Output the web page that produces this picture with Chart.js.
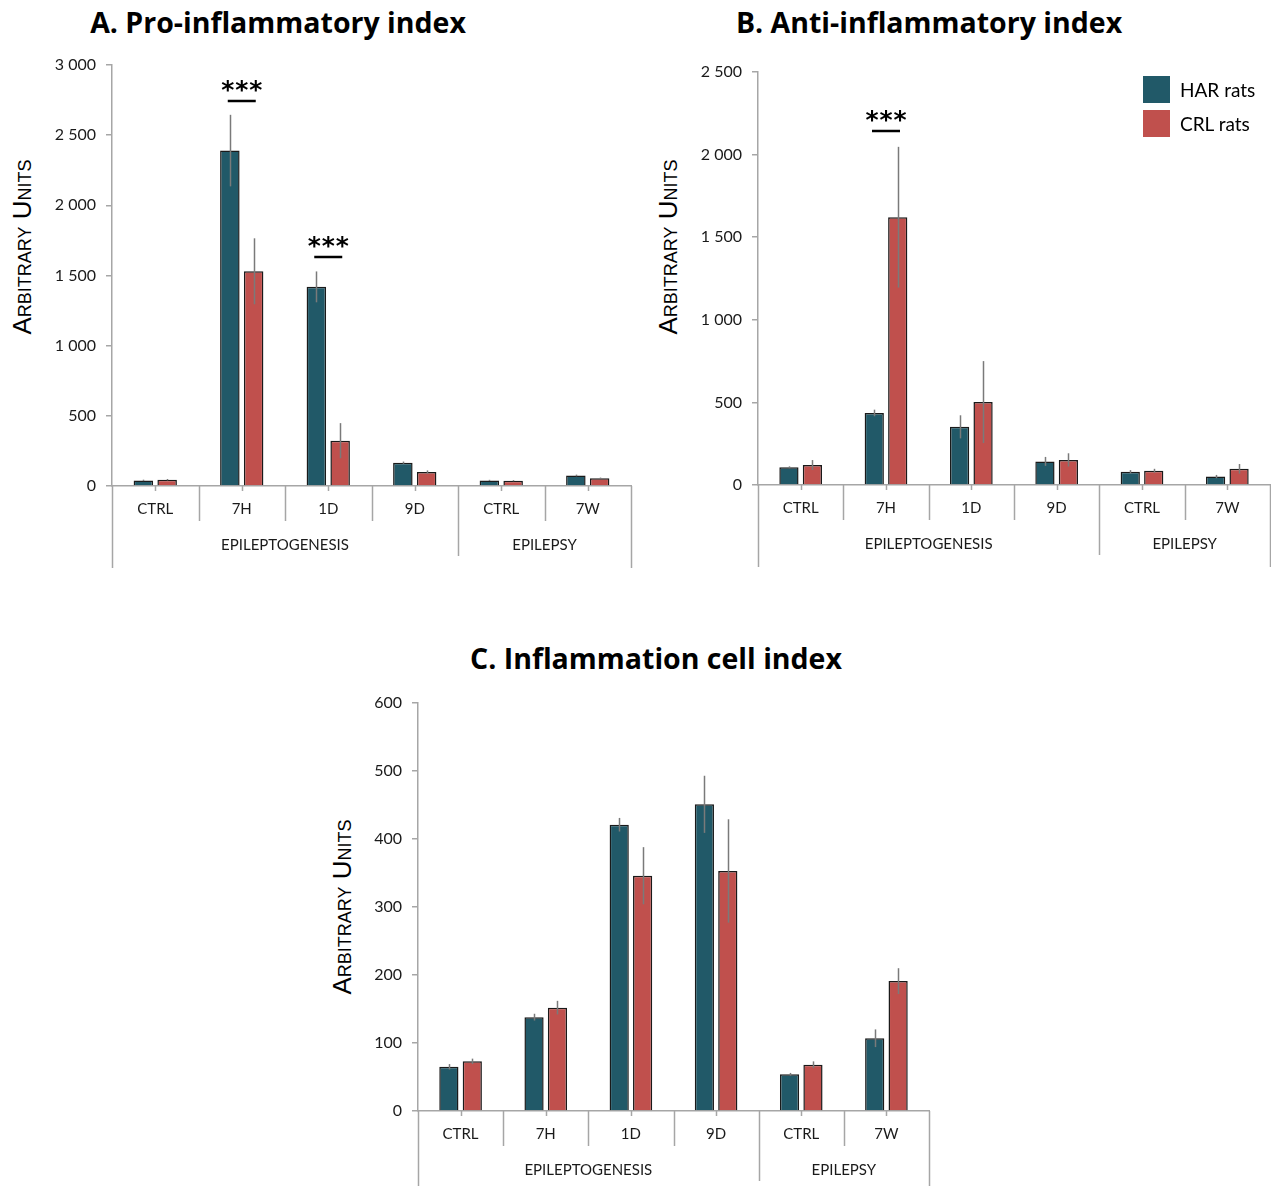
<!DOCTYPE html>
<html>
<head>
<meta charset="utf-8">
<script src="https://cdn.jsdelivr.net/npm/chart.js@4"></script>
<style>
body { margin: 0; background: #fff; }
#page { position: relative; width: 1271px; height: 1186px; overflow: hidden; font-family: Lato, sans-serif; }
.title { position: absolute; font-family: 'Open Sans', sans-serif; font-weight: 700; font-size: 28.5px; color: #000;
         white-space: nowrap; transform: translate(-50%, -50%); }
.ylab { position: absolute; font-family: 'Liberation Sans', Arial, sans-serif; font-size: 26px; font-variant: small-caps;
        color: #000; white-space: nowrap; transform: translate(-50%, -50%) rotate(-90deg); }
canvas { position: absolute; }
.legend { position: absolute; left: 1143px; top: 76px; font-family: Lato, sans-serif; font-size: 19px; color: #000; }
.legend div { display: flex; align-items: center; height: 27px; margin-bottom: 7px; }
.legend span { display: inline-block; width: 27px; height: 27px; margin-right: 10px; }
</style>
</head>
<body>
<div id="page">
  <div class="title" style="left:278px;top:22px">A. Pro-inflammatory index</div>
  <div class="title" style="left:929px;top:22px">B. Anti-inflammatory index</div>
  <div class="title" style="left:656px;top:658px">C. Inflammation cell index</div>

  <div class="ylab" style="left:22px;top:247px">Arbitrary Units</div>
  <div class="ylab" style="left:668px;top:247px">Arbitrary Units</div>
  <div class="ylab" style="left:342px;top:907px">Arbitrary Units</div>

  <canvas id="chart-pro"  width="640" height="535" style="left:0;top:45px"></canvas>
  <canvas id="chart-anti" width="631" height="530" style="left:640px;top:50px"></canvas>
  <canvas id="chart-cell" width="620" height="506" style="left:320px;top:680px"></canvas>

  <div class="legend">
    <div><span style="background:#215968"></span>HAR rats</div>
    <div><span style="background:#c0504d"></span>CRL rats</div>
  </div>
</div>

<script>
'use strict';
// ── data ──────────────────────────────────────────────────────────────────
const CATS        = ['CTRL', '7H', '1D', '9D', 'CTRL', '7W'];
const GROUPS      = ['EPILEPTOGENESIS', 'EPILEPSY'];
const GROUP_SIZES = [4, 2];
const SERIES      = ['HAR rats', 'CRL rats'];

// A. pro-inflammatory
const PRO_HAR     = [40, 2390, 1419, 166, 40, 75];
const PRO_HAR_ERR = [5, 255, 110, 8, 4, 6];
const PRO_CRL     = [45, 1530, 323, 99, 38, 55];
const PRO_CRL_ERR = [5, 235, 125, 12, 4, 5];
const PRO_STARS   = [1, 2];          // category index
const PRO_STAR_AT = [2745, 1635];    // value of the bar under ***

// B. anti-inflammatory
const ANTI_HAR     = [107, 436, 352, 143, 80, 51];
const ANTI_HAR_ERR = [6, 20, 70, 27, 10, 10];
const ANTI_CRL     = [121, 1621, 502, 152, 86, 98];
const ANTI_CRL_ERR = [30, 426, 248, 40, 12, 29];
const ANTI_STARS   = [1];
const ANTI_STAR_AT = [2140];

// C. inflammation cell
const CELL_HAR     = [65, 138, 421, 451, 54, 107];
const CELL_HAR_ERR = [4, 5, 10, 42, 2, 13];
const CELL_CRL     = [73, 152, 346, 353, 68, 191];
const CELL_CRL_ERR = [4, 10, 42, 76, 5, 19];

const HAR_COL  = '#215968';
const CRL_COL  = '#c0504d';
const AXIS_COL = '#a6a6a6';

const thousands = v => String(v).replace(/\B(?=(\d{3})+(?!\d))/g, ' ');

// ── decorations: error bars, ***, category/group separators ─────────────
function decoPlugin(cfg) {
    return {
        id: 'deco',
        afterDatasetsDraw(chart) {
            const { ctx, scales: { x, y } } = chart;
            ctx.save();
            ctx.strokeStyle = '#7a7a7a';
            ctx.lineWidth = 1.5;
            [cfg.harErr, cfg.crlErr].forEach((errs, di) => {
                const vals = chart.data.datasets[di].data;
                chart.getDatasetMeta(di).data.forEach((bar, i) => {
                    ctx.beginPath();
                    ctx.moveTo(Math.round(bar.x) + 0.5, y.getPixelForValue(vals[i] - errs[i]));
                    ctx.lineTo(Math.round(bar.x) + 0.5, y.getPixelForValue(vals[i] + errs[i]));
                    ctx.stroke();
                });
            });
            // significance marks
            (cfg.stars || []).forEach((ci, k) => {
                const cx = x.getPixelForValue(ci);
                const ly = Math.round(y.getPixelForValue(cfg.starAt[k]));
                ctx.strokeStyle = '#000';
                ctx.lineWidth = 2.5;
                ctx.beginPath();
                ctx.moveTo(cx - 14, ly);
                ctx.lineTo(cx + 14, ly);
                ctx.stroke();
                ctx.fillStyle = '#000';
                ctx.font = 'bold 25px "DejaVu Sans"';
                ctx.textAlign = 'center';
                ctx.textBaseline = 'middle';
                [-14, 0, 14].forEach(dx => ctx.fillText('*', cx + dx, ly - 10));
            });
            ctx.restore();
        },
        afterDraw(chart) {
            const { ctx, chartArea: a, scales: { x } } = chart;
            const n = CATS.length;
            const w = (a.right - a.left) / n;
            const bot = a.bottom;
            ctx.save();
            ctx.strokeStyle = AXIS_COL;
            ctx.lineWidth = 1.5;
            const groupEdges = [];
            let acc = 0;
            GROUP_SIZES.forEach(s => { acc += s; groupEdges.push(acc); });
            for (let k = 0; k <= n; k++) {
                let len = 35;
                if (k === 0 || k === n) len = cfg.outerLen;
                else if (groupEdges.includes(k)) len = 70;
                const px = Math.round(a.left + k * w) + 0.5;
                ctx.beginPath();
                ctx.moveTo(px, bot);
                ctx.lineTo(px, bot + len);
                ctx.stroke();
            }
            // small ticks at category centres
            for (let i = 0; i < n; i++) {
                const px = Math.round(x.getPixelForValue(i)) + 0.5;
                ctx.beginPath();
                ctx.moveTo(px, bot);
                ctx.lineTo(px, bot + 5);
                ctx.stroke();
            }
            // group labels
            ctx.fillStyle = '#1a1a1a';
            ctx.font = '15px Lato';
            ctx.textAlign = 'center';
            ctx.textBaseline = 'middle';
            let start = 0;
            GROUPS.forEach((g, gi) => {
                const cx = a.left + (start + GROUP_SIZES[gi] / 2) * w;
                ctx.fillText(g, cx, bot + 59);
                start += GROUP_SIZES[gi];
            });
            ctx.restore();
        }
    };
}

function makeChart(id, har, harErr, crl, crlErr, g) {
    return new Chart(document.getElementById(id), {
        type: 'bar',
        data: {
            labels: CATS,
            datasets: [
                { label: SERIES[0], data: har, backgroundColor: HAR_COL, borderColor: '#1a1a1a', borderWidth: 1.5,
                  barPercentage: 0.82, categoryPercentage: 0.55 },
                { label: SERIES[1], data: crl, backgroundColor: CRL_COL, borderColor: '#1a1a1a', borderWidth: 1.5,
                  barPercentage: 0.82, categoryPercentage: 0.55 },
            ]
        },
        options: {
            responsive: false,
            animation: false,
            layout: { padding: { left: 0, right: g.padRight, top: g.padTop, bottom: 0 } },
            plugins: { legend: { display: false }, tooltip: { enabled: false } },
            scales: {
                x: {
                    grid: { display: false, drawTicks: false },
                    border: { display: true, color: AXIS_COL, width: 1.5 },
                    ticks: { color: '#1a1a1a', font: { family: 'Lato', size: 15 }, padding: 14, maxRotation: 0, autoSkip: false },
                    afterFit: s => { s.height = g.xHeight; }
                },
                y: {
                    min: 0, max: g.max,
                    grid: { drawOnChartArea: false, drawTicks: true, tickLength: 6, color: AXIS_COL, lineWidth: 1.5 },
                    border: { display: true, color: AXIS_COL, width: 1.5 },
                    ticks: { stepSize: g.step, color: '#1a1a1a', font: { family: 'Lato', size: 16 }, padding: 10,
                             callback: v => thousands(v) },
                    afterFit: s => { s.width = g.yWidth; }
                }
            }
        },
        plugins: [decoPlugin({ harErr, crlErr, stars: g.stars, starAt: g.starAt, outerLen: g.outerLen })]
    });
}

makeChart('chart-pro', PRO_HAR, PRO_HAR_ERR, PRO_CRL, PRO_CRL_ERR,
    { max: 3000, step: 500, yWidth: 112, xHeight: 94, padTop: 20, padRight: 9, outerLen: 82,
      stars: PRO_STARS, starAt: PRO_STAR_AT });
makeChart('chart-anti', ANTI_HAR, ANTI_HAR_ERR, ANTI_CRL, ANTI_CRL_ERR,
    { max: 2500, step: 500, yWidth: 118, xHeight: 95, padTop: 22, padRight: 1, outerLen: 82,
      stars: ANTI_STARS, starAt: ANTI_STAR_AT });
makeChart('chart-cell', CELL_HAR, CELL_HAR_ERR, CELL_CRL, CELL_CRL_ERR,
    { max: 600, step: 100, yWidth: 98, xHeight: 75, padTop: 23, padRight: 11, outerLen: 80,
      stars: [], starAt: [] });
</script>
</body>
</html>
